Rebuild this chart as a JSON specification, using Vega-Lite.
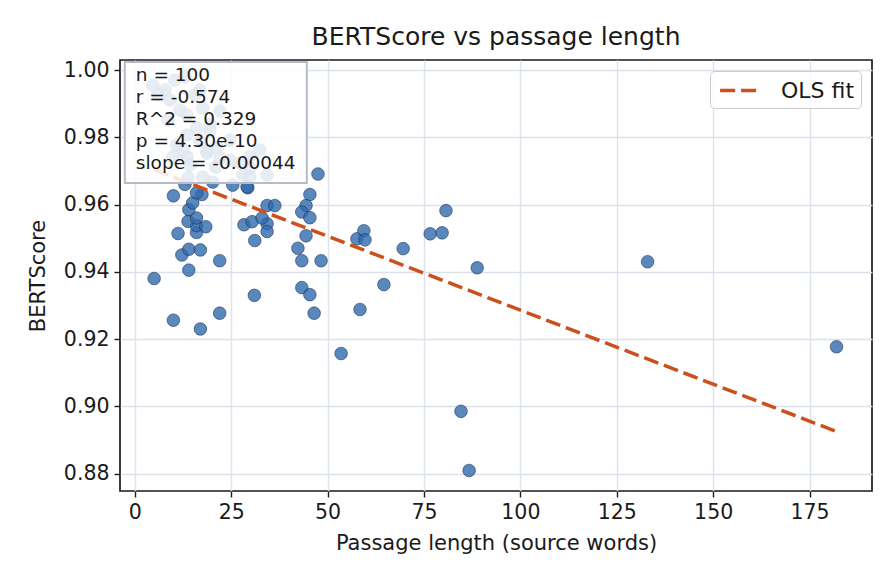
{
  "$schema": "https://vega.github.io/schema/vega-lite/v6.json",
  "width": 752,
  "height": 431,
  "autosize": {"type": "none"},
  "padding": {"left": 120, "top": 60, "right": 24, "bottom": 93},
  "background": "white",
  "config": {
    "font": "DejaVu Sans",
    "view": {"stroke": "#1a1a1a", "strokeWidth": 1.7},
    "axis": {
      "domain": false,
      "grid": true,
      "gridColor": "#dce2ec",
      "gridWidth": 1.4,
      "tickColor": "#1a1a1a",
      "tickSize": 6,
      "tickWidth": 1.4,
      "labelColor": "#1a1a1a",
      "labelFontSize": 20.5,
      "labelPadding": 5,
      "titleColor": "#1a1a1a",
      "titleFontSize": 21,
      "titleFontWeight": "normal"
    }
  },
  "title": {"text": "BERTScore vs passage length", "fontSize": 25, "fontWeight": "normal", "color": "#1a1a1a", "offset": 10},
  "datasets": {
    "points": [
      {"words": 5, "score": 0.938},
      {"words": 10, "score": 0.9256},
      {"words": 17, "score": 0.923},
      {"words": 22, "score": 0.9277},
      {"words": 31, "score": 0.933},
      {"words": 14, "score": 0.9405},
      {"words": 22, "score": 0.9433},
      {"words": 12.2, "score": 0.945},
      {"words": 14, "score": 0.9467},
      {"words": 17, "score": 0.9465},
      {"words": 11.2, "score": 0.9514},
      {"words": 16, "score": 0.9517},
      {"words": 16, "score": 0.9537},
      {"words": 18.4, "score": 0.9534},
      {"words": 13.8, "score": 0.955},
      {"words": 16, "score": 0.956},
      {"words": 14, "score": 0.9585},
      {"words": 15, "score": 0.9605},
      {"words": 17.4, "score": 0.963},
      {"words": 16, "score": 0.9635},
      {"words": 10, "score": 0.9626},
      {"words": 13, "score": 0.966},
      {"words": 28.3, "score": 0.954},
      {"words": 30.4, "score": 0.9549},
      {"words": 34.3, "score": 0.9543},
      {"words": 34.3, "score": 0.952},
      {"words": 31.1, "score": 0.9493},
      {"words": 34.3, "score": 0.9597},
      {"words": 36.3, "score": 0.9597},
      {"words": 29.3, "score": 0.965},
      {"words": 47.5, "score": 0.9691},
      {"words": 45.4, "score": 0.963},
      {"words": 44.4, "score": 0.9597},
      {"words": 43.3, "score": 0.9578},
      {"words": 45.4, "score": 0.9561},
      {"words": 44.4, "score": 0.9507},
      {"words": 42.3, "score": 0.947},
      {"words": 43.3, "score": 0.9433},
      {"words": 48.3, "score": 0.9433},
      {"words": 43.3, "score": 0.9353},
      {"words": 45.4, "score": 0.9332},
      {"words": 46.5, "score": 0.9277},
      {"words": 58.4, "score": 0.9288},
      {"words": 64.6, "score": 0.9362},
      {"words": 53.5, "score": 0.9157},
      {"words": 57.6, "score": 0.9498},
      {"words": 59.4, "score": 0.9522},
      {"words": 59.7, "score": 0.9495},
      {"words": 69.6, "score": 0.9469},
      {"words": 76.6, "score": 0.9513},
      {"words": 79.7, "score": 0.9516},
      {"words": 80.7, "score": 0.9582},
      {"words": 88.8, "score": 0.9412},
      {"words": 133, "score": 0.943},
      {"words": 182, "score": 0.9177},
      {"words": 84.6, "score": 0.8985},
      {"words": 86.7, "score": 0.8809},
      {"words": 33, "score": 0.956},
      {"words": 20.2, "score": 0.9667},
      {"words": 13.8, "score": 0.968},
      {"words": 4.7, "score": 0.9955},
      {"words": 7.8, "score": 0.9941},
      {"words": 10.4, "score": 0.997},
      {"words": 9.1, "score": 0.9911},
      {"words": 11.7, "score": 0.9881},
      {"words": 8.6, "score": 0.9852},
      {"words": 13.5, "score": 0.9866},
      {"words": 16.1, "score": 0.9828},
      {"words": 19.5, "score": 0.9837},
      {"words": 22.1, "score": 0.9878},
      {"words": 13.5, "score": 0.9807},
      {"words": 16.9, "score": 0.9789},
      {"words": 10.9, "score": 0.9777},
      {"words": 21.3, "score": 0.9768},
      {"words": 17.6, "score": 0.9887},
      {"words": 19.5, "score": 0.9819},
      {"words": 18.7, "score": 0.9759},
      {"words": 22.1, "score": 0.9739},
      {"words": 29.8, "score": 0.9709},
      {"words": 34.3, "score": 0.9688},
      {"words": 28, "score": 0.9688},
      {"words": 25.4, "score": 0.9658},
      {"words": 9.9, "score": 0.9742},
      {"words": 13.5, "score": 0.9742},
      {"words": 18.7, "score": 0.9753},
      {"words": 27.3, "score": 0.9724},
      {"words": 29.8, "score": 0.9742},
      {"words": 17.6, "score": 0.9682},
      {"words": 29.8, "score": 0.9682},
      {"words": 29.1, "score": 0.9653},
      {"words": 14.3, "score": 0.9718},
      {"words": 24.7, "score": 0.9792},
      {"words": 32.4, "score": 0.9762},
      {"words": 15.6, "score": 0.9926},
      {"words": 13, "score": 0.998},
      {"words": 6, "score": 0.9926},
      {"words": 16.9, "score": 0.994},
      {"words": 24.7, "score": 0.9732},
      {"words": 12.5, "score": 0.9762},
      {"words": 21, "score": 0.9712}
    ],
    "fit": [
      {"words": 5, "score": 0.9704},
      {"words": 182, "score": 0.8925}
    ],
    "stats": [
      {"left": -2.6, "right": 44.6, "top": 1.0024, "bottom": 0.9664, "tx": 0.26, "ty": 1.0012, "label": "n = 100\nr = -0.574\nR^2 = 0.329\np = 4.30e-10\nslope = -0.00044"}
    ]
  },
  "layer": [
    {
      "data": {"name": "points"},
      "mark": {"type": "circle", "size": 160, "color": "#2f6aae", "fillOpacity": 0.8, "stroke": "#1c2d4a", "strokeWidth": 0.6, "strokeOpacity": 0.9},
      "encoding": {
        "x": {
          "field": "words",
          "type": "quantitative",
          "title": "Passage length (source words)",
          "scale": {"domain": [-3.85, 191.2], "nice": false, "zero": false},
          "axis": {"values": [0, 25, 50, 75, 100, 125, 150, 175], "titlePadding": 10}
        },
        "y": {
          "field": "score",
          "type": "quantitative",
          "title": "BERTScore",
          "scale": {"domain": [0.8748, 1.003], "nice": false, "zero": false},
          "axis": {"values": [0.88, 0.9, 0.92, 0.94, 0.96, 0.98, 1.0], "format": ".2f", "titlePadding": 15}
        }
      }
    },
    {
      "data": {"name": "fit"},
      "mark": {"type": "line", "strokeWidth": 3.5, "strokeDash": [15, 6]},
      "encoding": {
        "x": {"field": "words", "type": "quantitative"},
        "y": {"field": "score", "type": "quantitative"},
        "color": {
          "datum": "OLS fit",
          "type": "nominal",
          "scale": {"range": ["#cc4f1c"]},
          "legend": {
            "title": null,
            "orient": "top-right",
            "offset": 11,
            "padding": 6,
            "fillColor": "rgba(255,255,255,0.85)",
            "strokeColor": "#cccccc",
            "cornerRadius": 4,
            "symbolType": "M-1.6,0H1.6",
            "symbolSize": 529,
            "symbolOffset": 9,
            "symbolStrokeWidth": 3.5,
            "symbolDash": [15, 6],
            "labelFontSize": 22,
            "labelColor": "#1a1a1a",
            "labelOffset": 29
          }
        }
      }
    },
    {
      "data": {"name": "stats"},
      "mark": {"type": "rect", "fill": "white", "fillOpacity": 0.85, "stroke": "#b4bcc8", "strokeWidth": 2},
      "encoding": {
        "x": {"field": "left", "type": "quantitative"},
        "x2": {"field": "right"},
        "y": {"field": "top", "type": "quantitative"},
        "y2": {"field": "bottom"}
      }
    },
    {
      "data": {"name": "stats"},
      "mark": {"type": "text", "align": "left", "baseline": "top", "fontSize": 18.5, "lineHeight": 22, "color": "#1a1a1a", "lineBreak": "\n"},
      "encoding": {
        "x": {"field": "tx", "type": "quantitative"},
        "y": {"field": "ty", "type": "quantitative"},
        "text": {"field": "label"}
      }
    }
  ]
}
